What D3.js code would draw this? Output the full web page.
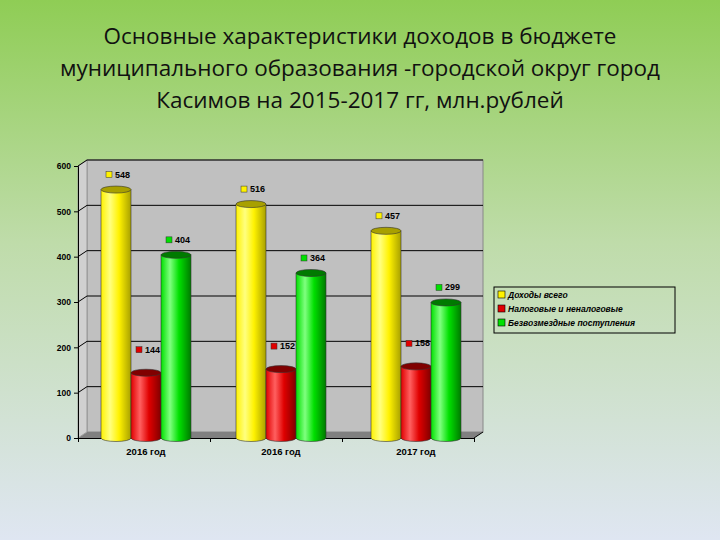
<!DOCTYPE html>
<html><head><meta charset="utf-8">
<script src="https://cdn.jsdelivr.net/npm/d3@7"></script>
<style>body{margin:0}</style></head>
<body><svg id="c" width="720" height="540"></svg>
<script>
const categories = ["2016 год", "2016 год", "2017 год"];
const seriesNames = ["Доходы всего", "Налоговые и неналоговые", "Безвозмездные поступления"];
const totalIncome = [548, 516, 457];
const taxIncome = [144, 152, 158];
const grants = [404, 364, 299];
const yTicks = [0, 100, 200, 300, 400, 500, 600];
const titleLines = ["Основные характеристики доходов в бюджете",
  "муниципального образования -городской округ город",
  "Касимов на 2015-2017 гг, млн.рублей"];
const colors = [["#fff200","#a8a000","#ffff80"],["#e00000","#800000","#ff6060"],["#00e000","#007a00","#80ff80"]];
const series = [totalIncome, taxIncome, grants];

const svg = d3.select("#c");
const defs = svg.append("defs");
const bg = defs.append("linearGradient").attr("id","bg").attr("x1",0).attr("y1",0).attr("x2",0).attr("y2",1);
bg.append("stop").attr("offset","0%").attr("stop-color","#8fcd55");
bg.append("stop").attr("offset","45%").attr("stop-color","#bfdcaa");
bg.append("stop").attr("offset","100%").attr("stop-color","#dfe6f2");
svg.append("rect").attr("width",720).attr("height",540).attr("fill","url(#bg)");
colors.forEach((c,i)=>{
  const g = defs.append("linearGradient").attr("id","cy"+i);
  g.append("stop").attr("offset","0%").attr("stop-color",c[0]);
  g.append("stop").attr("offset","30%").attr("stop-color",c[2]);
  g.append("stop").attr("offset","60%").attr("stop-color",c[0]);
  g.append("stop").attr("offset","100%").attr("stop-color",c[1]);
});

svg.append("g").selectAll("text").data(titleLines).join("text")
  .attr("x",360).attr("y",(d,i)=>44+i*32).attr("text-anchor","middle")
  .attr("font-family","Open Sans, sans-serif").attr("font-size",22.5).attr("fill","#111").text(d=>d);

const dx = 9, dy = -6;
const y = d3.scaleLinear().domain([0,600]).range([438,166]);
const x0 = d3.scaleBand().domain(d3.range(3)).range([78,483]);
const x1 = d3.scaleBand().domain(d3.range(3)).range([0,90]);
const off = 23;

svg.append("rect").attr("x",78+dx).attr("y",y(600)+dy).attr("width",483-78-dx).attr("height",y(0)-y(600))
  .attr("fill","#c0c0c0").attr("stroke","#888");
svg.append("path").attr("d",`M78,${y(0)}L${78+dx},${y(0)+dy}L${483},${y(0)+dy}L${483-dx},${y(0)}Z`).attr("fill","#808080");
svg.append("path").attr("d",`M78,${y(0)}L78,${y(600)}L${78+dx},${y(600)+dy}L${78+dx},${y(0)+dy}Z`).attr("fill","#d0d0d0").attr("stroke","#999");
svg.append("g").selectAll("line").data(yTicks.slice(1)).join("line")
  .attr("x1",78+dx).attr("x2",483).attr("y1",d=>y(d)+dy).attr("y2",d=>y(d)+dy).attr("stroke","#000");
svg.append("g").selectAll("line").data(yTicks.slice(1)).join("line")
  .attr("x1",78).attr("x2",78+dx).attr("y1",d=>y(d)).attr("y2",d=>y(d)+dy).attr("stroke","#000");

const yAxis = svg.append("g").attr("transform","translate(78,0)")
  .call(d3.axisLeft(y).tickValues(yTicks).tickSize(4));
yAxis.selectAll("text").attr("font-family","Arial").attr("font-weight","bold").attr("font-size",8.5);
const xAxis = svg.append("g").attr("transform",`translate(0,${y(0)})`)
  .call(d3.axisBottom(d3.scaleLinear().domain([0,3]).range([78,474])).ticks(3).tickFormat("").tickSize(4));
svg.append("line").attr("x1",474).attr("y1",y(0)).attr("x2",483).attr("y2",y(0)+dy).attr("stroke","#000");
svg.append("g").selectAll("text").data(categories).join("text")
  .attr("x",(d,i)=>x0(i)+off+45).attr("y",455).attr("text-anchor","middle")
  .attr("font-family","Arial").attr("font-weight","bold").attr("font-size",9.5).text(d=>d);

const ry = 3.5;
series.forEach((vals,s)=>{
  vals.forEach((v,i)=>{
    const bx = x0(i)+off+x1(s), w = x1.bandwidth(), cx = bx+w/2;
    const top = y(v), bot = y(0);
    const g = svg.append("g");
    g.append("path").attr("d",`M${bx},${top}V${bot}A${w/2},${ry} 0 0 0 ${bx+w},${bot}V${top}Z`)
      .attr("fill",`url(#cy${s})`).attr("stroke","#333").attr("stroke-width",0.6);
    g.append("ellipse").attr("cx",cx).attr("cy",top).attr("rx",w/2).attr("ry",ry)
      .attr("fill",colors[s][1]).attr("stroke","#333").attr("stroke-width",0.6);
    const lx = bx + 5, ly = top - (s===1 ? 20 : 12);
    g.append("rect").attr("x",lx).attr("y",ly-6).attr("width",6).attr("height",6)
      .attr("fill",colors[s][0]).attr("stroke","#333").attr("stroke-width",0.5);
    g.append("text").attr("x",lx+9).attr("y",ly).attr("font-family","Arial").attr("font-weight","bold")
      .attr("font-size",9).text(v);
  });
});

const lg = svg.append("g").attr("transform","translate(494,287)");
lg.append("rect").attr("width",181).attr("height",46).attr("fill","none").attr("stroke","#000");
seriesNames.forEach((n,i)=>{
  lg.append("rect").attr("x",4).attr("y",4+i*14).attr("width",7).attr("height",7)
    .attr("fill",colors[i][0]).attr("stroke","#000").attr("stroke-width",0.6);
  lg.append("text").attr("x",14).attr("y",11+i*14).attr("font-family","Arial").attr("font-style","italic")
    .attr("font-weight","bold").attr("font-size",8.5).text(n);
});
</script></body></html>
